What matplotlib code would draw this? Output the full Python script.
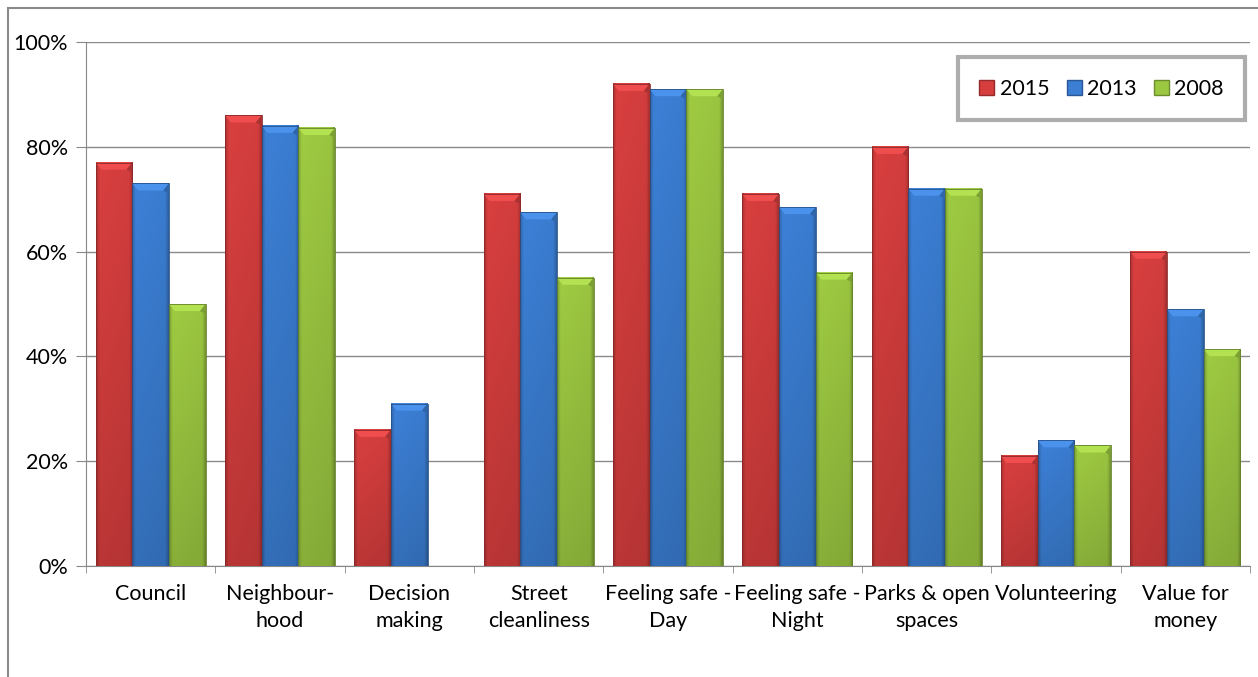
import numpy as np
import matplotlib
matplotlib.use("Agg")
import matplotlib.pyplot as plt
from matplotlib.colors import to_rgb
from matplotlib.patches import Patch, Polygon, Rectangle
from matplotlib.ticker import FuncFormatter

plt.rcParams["font.family"] = ["Lato", "DejaVu Sans"]

categories = ["Council", "Neighbour-\nhood", "Decision\nmaking", "Street\ncleanliness",
              "Feeling safe -\nDay", "Feeling safe -\nNight", "Parks & open\nspaces",
              "Volunteering", "Value for\nmoney"]
years = ["2015", "2013", "2008"]
v2015 = [0.77, 0.86, 0.26, 0.71, 0.92, 0.71, 0.80, 0.21, 0.60]
v2013 = [0.73, 0.84, 0.31, 0.675, 0.91, 0.685, 0.72, 0.24, 0.49]
v2008 = [0.50, 0.836, np.nan, 0.55, 0.91, 0.56, 0.72, 0.23, 0.414]
colors = ["#D63E3E", "#3B7ED3", "#9CC841"]

fig = plt.figure(figsize=(12.58, 6.77), dpi=100)
ax = fig.add_axes([86 / 1258, 1 - 566 / 677, 1164 / 1258, 524 / 677])

x = np.arange(len(categories)) + 0.5
width = 0.284
series = [v2015, v2013, v2008]


def shade_bar(ax, patch, base):
    """Give a flat bar a bevelled, gradient look."""
    h = patch.get_height()
    if not np.isfinite(h) or h <= 0:
        return
    x0, w = patch.get_x(), patch.get_width()
    rgb = np.array(to_rgb(base))
    nx, ny = 40, 80
    t = np.linspace(0, 1, nx)
    edge = np.minimum(t, 1 - t)
    fx = 0.80 + 0.22 * np.clip(edge / 0.09, 0, 1) - 0.04 * t
    fy = np.linspace(1.0, 0.86, ny)[:, None]
    img = np.clip(rgb[None, None, :] * fx[None, :, None] * fy[:, :, None], 0, 1)
    ax.imshow(img, extent=(x0, x0 + w, 0, h), aspect="auto",
              interpolation="bilinear", zorder=3)
    inset, bh = 0.045, min(0.0135, h * 0.5)
    light = np.clip(rgb * 1.06 + 0.05, 0, 1)
    dark = rgb * 0.8
    top = Polygon([(x0, h), (x0 + w, h), (x0 + w - inset, h - bh), (x0 + inset, h - bh)],
                  closed=True, fc=light, ec="none", zorder=4)
    right = Polygon([(x0 + w, h), (x0 + w, h - bh * 1.4), (x0 + w - inset, h - bh)],
                    closed=True, fc=dark, ec="none", zorder=4)
    ax.add_patch(top)
    ax.add_patch(right)
    ax.add_patch(Rectangle((x0, 0), w, h, fill=False, ec=rgb * 0.65, lw=0.6, zorder=5))


for i, (vals, col) in enumerate(zip(series, colors)):
    bars = ax.bar(x + (i - 1) * width, vals, width, color=col, zorder=2)
    for p in bars:
        shade_bar(ax, p, col)

ax.set_xlim(0, len(categories))
ax.set_ylim(0, 1)
ax.set_yticks(np.arange(0, 1.01, 0.2))
ax.yaxis.set_major_formatter(FuncFormatter(lambda v, _: f"{v:.0%}"))
ax.set_xticks(x)
ax.set_xticklabels(categories, fontsize=15.5, linespacing=1.45)
ax.set_xticks(np.arange(len(categories) + 1), minor=True)
ax.tick_params(axis="x", which="major", length=0, pad=13)
ax.tick_params(axis="x", which="minor", length=5, color="#888888", direction="out")
ax.tick_params(axis="y", labelsize=15.5, length=7, color="#888888", pad=6)
ax.grid(axis="y", color="#8a8a8a", lw=1, zorder=0)
ax.set_axisbelow(True)
for s in ["top", "right"]:
    ax.spines[s].set_visible(False)
for s in ["left", "bottom"]:
    ax.spines[s].set_color("#888888")

handles = [Patch(fc=c, ec=np.array(to_rgb(c)) * 0.7) for c in colors]
leg = ax.legend(handles, years, ncol=3, loc="upper right", bbox_to_anchor=(0.996, 0.971),
                fontsize=15.5, frameon=True, fancybox=False, handlelength=0.7,
                handleheight=0.7, handletextpad=0.25, columnspacing=0.8,
                borderpad=1.0, borderaxespad=0)
leg.get_frame().set_edgecolor("#999999")
leg.get_frame().set_linewidth(3)
leg.set_zorder(10)

fig.patches.append(Rectangle((8 / 1258, -0.1), 1.2, 1.1 - 8 / 677, transform=fig.transFigure,
                             fill=False, ec="#8a8a8a", lw=1.5))

fig.savefig("out.png", dpi=100)
